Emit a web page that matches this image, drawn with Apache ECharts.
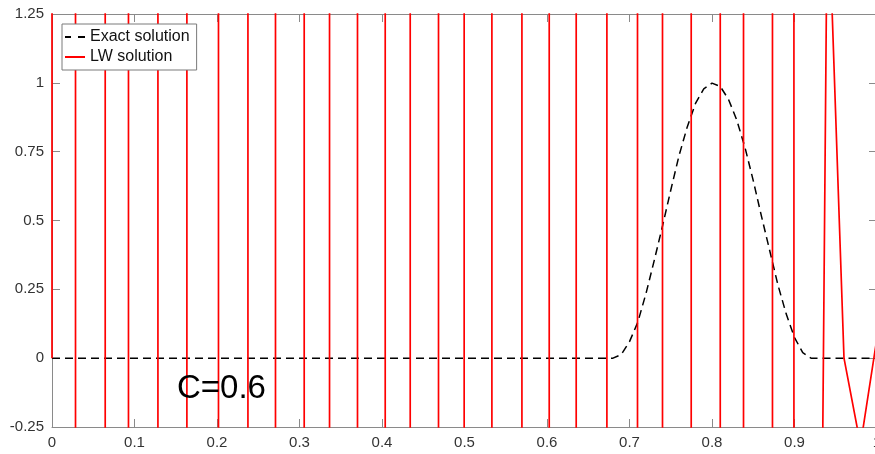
<!DOCTYPE html>
<html>
<head>
<meta charset="utf-8">
<script src="https://cdn.jsdelivr.net/npm/echarts@6/dist/echarts.min.js"></script>
<style>
html,body{margin:0;padding:0;background:#fff;}
#chart{width:875px;height:454px;}
</style>
</head>
<body>
<div id="chart"></div>
<script>
// Exact solution (dashed black)
var exactX = [0, 0.68, 0.69, 0.70, 0.71, 0.72, 0.73, 0.74, 0.75, 0.76, 0.77, 0.78, 0.79, 0.80,
              0.81, 0.82, 0.83, 0.84, 0.85, 0.86, 0.87, 0.88, 0.89, 0.90, 0.91, 0.92, 1.0];
var exactY = [0, 0, 0.013, 0.06, 0.13, 0.235, 0.355, 0.48, 0.61, 0.735, 0.84, 0.925, 0.978, 0.999,
              0.987, 0.94, 0.865, 0.765, 0.645, 0.515, 0.39, 0.265, 0.16, 0.075, 0.02, 0, 0];

// LW solution (red): diverging oscillation, values far outside the visible range
var lwX = [0, 0,
  0.0285, 0.0285, 0.0645, 0.0645, 0.0927, 0.0927, 0.1284, 0.1284, 0.1635, 0.1635,
  0.2018, 0.2018, 0.2375, 0.2375, 0.2709, 0.2709, 0.3057, 0.3057, 0.3364, 0.3364,
  0.3703, 0.3703, 0.4039, 0.4039, 0.4342, 0.4342, 0.4685, 0.4685, 0.4996, 0.4996,
  0.5332, 0.5332, 0.5696, 0.5696, 0.6027, 0.6027, 0.6354, 0.6354, 0.6726, 0.6726,
  0.7097, 0.7097, 0.7400, 0.7400, 0.7748, 0.7748, 0.8100, 0.8100, 0.8382, 0.8382,
  0.8733, 0.8733, 0.8993, 0.8993,
  0.92, 0.94, 0.96, 0.98, 1.0];
var lwY = [0, 50,
  50, -50, -50, 50, 50, -50, -50, 50, 50, -50,
  -50, 50, 50, -50, -50, 50, 50, -50, -50, 50,
  50, -50, -50, 50, 50, -50, -50, 50, 50, -50,
  -50, 50, 50, -50, -50, 50, 50, -50, -50, 50,
  50, -50, -50, 50, 50, -50, -50, 50, 50, -50,
  -50, 50, 50, -50,
  -5.3, 1.75, 0, -0.315, 0.074];

var xTicks = {min: 0, max: 1, interval: 0.1};
var yTicks = {min: -0.25, max: 1.25, interval: 0.25};

var FONT = "'Liberation Sans', Arial, Helvetica, sans-serif";
var AXIS_COLOR = '#8a8a8a';

function zip(xs, ys) { return xs.map(function (x, i) { return [x, ys[i]]; }); }

function axisCommon(showLabel, extra) {
  var o = {
    type: 'value',
    axisLine: {show: true, onZero: false, lineStyle: {color: AXIS_COLOR, width: 1}},
    axisTick: {show: true, inside: true, length: 8, lineStyle: {color: AXIS_COLOR, width: 1}},
    axisLabel: {show: showLabel, fontSize: 15, color: '#333', fontFamily: FONT, hideOverlap: false},
    splitLine: {show: false}
  };
  for (var k in extra) o[k] = extra[k];
  return o;
}

var chart = echarts.init(document.getElementById('chart'), null, {renderer: 'canvas'});
var option = {
  animation: false,
  backgroundColor: '#fff',
  grid: {left: 52, top: 14, width: 825, height: 413, containLabel: false, outerBoundsMode: 'none'},
  xAxis: [
    axisCommon(true, {position: 'bottom', min: xTicks.min, max: xTicks.max, interval: xTicks.interval}),
    axisCommon(false, {position: 'top', min: xTicks.min, max: xTicks.max, interval: xTicks.interval})
  ],
  yAxis: [
    axisCommon(true, {position: 'left', min: yTicks.min, max: yTicks.max, interval: yTicks.interval}),
    axisCommon(false, {position: 'right', min: yTicks.min, max: yTicks.max, interval: yTicks.interval})
  ],
  legend: {
    orient: 'vertical',
    left: 62, top: 24,
    padding: [5, 7, 5, 3],
    itemWidth: 20, itemHeight: 2, itemGap: 4,
    backgroundColor: '#fff',
    borderColor: '#7a7a7a', borderWidth: 1,
    textStyle: {fontSize: 16, color: '#111', fontFamily: FONT, lineHeight: 16},
    data: [
      {name: 'Exact solution', icon: 'path://M0,0H6V2H0Z M13,0H20V2H13Z', itemStyle: {color: '#000'}},
      {name: 'LW solution', icon: 'path://M0,0H20V2H0Z', itemStyle: {color: '#ff0000'}}
    ]
  },
  series: [
    {
      name: 'Exact solution', type: 'line', data: zip(exactX, exactY),
      symbol: 'none', showSymbol: false, clip: true, z: 2,
      lineStyle: {color: '#000', width: 1.5, type: [8, 5]},
      itemStyle: {color: '#000'}
    },
    {
      name: 'LW solution', type: 'line', data: zip(lwX, lwY),
      symbol: 'none', showSymbol: false, clip: true, z: 3,
      lineStyle: {color: '#ff0000', width: 1.7},
      itemStyle: {color: '#ff0000'}
    }
  ],
  graphic: [{
    type: 'text', left: 177, top: 372, z: 10,
    style: {text: 'C=0.6', fontSize: 33, fill: '#000', fontFamily: FONT}
  }]
};
chart.setOption(option);
</script>
</body>
</html>
